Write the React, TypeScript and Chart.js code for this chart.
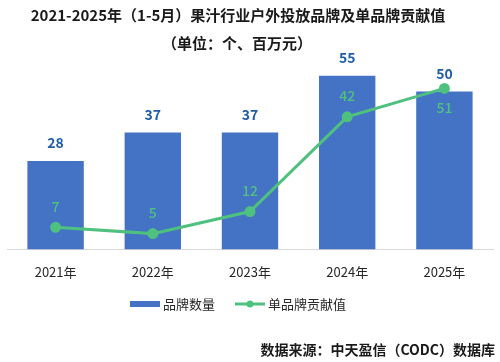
import React, { useEffect, useRef } from "react";
import { Chart, registerables } from "chart.js";

Chart.register(...registerables);

const categories = ["2021年", "2022年", "2023年", "2024年", "2025年"];
const brandCount = [28, 37, 37, 55, 50];
const brandContribution = [7, 5, 12, 42, 51];
const lineLabelPlacement = ["above", "above", "above", "above", "below"];

const titleLines = ["2021-2025年（1-5月）果汁行业户外投放品牌及单品牌贡献值", "（单位：个、百万元）"];
const sourceText = "数据来源：中天盈信（CODC）数据库";
const legendNames = ["品牌数量", "单品牌贡献值"];

const BAR_COLOR = "#4472c4";
const LINE_COLOR = "#4fc17f";
const BAR_LABEL_COLOR = "#1f5ea6";
const FONT = "'Noto Sans CJK SC', 'Noto Sans', sans-serif";

const decorPlugin = {
  id: "decor",
  afterDatasetsDraw(chart: any) {
    const ctx = chart.ctx;
    ctx.save();
    const barMeta = chart.getDatasetMeta(0);
    ctx.textAlign = "center";
    ctx.textBaseline = "middle";
    ctx.font = `bold 14px ${FONT}`;
    ctx.fillStyle = BAR_LABEL_COLOR;
    barMeta.data.forEach((el: any, i: number) => {
      ctx.fillText(String(brandCount[i]), el.x, el.y - 18);
    });
    const lineMeta = chart.getDatasetMeta(1);
    ctx.font = `500 14px ${FONT}`;
    ctx.fillStyle = LINE_COLOR;
    lineMeta.data.forEach((el: any, i: number) => {
      const dy = lineLabelPlacement[i] === "below" ? 19 : -21;
      ctx.fillText(String(brandContribution[i]), el.x, el.y + dy);
    });
    ctx.restore();
  },
  afterDraw(chart: any) {
    const ctx = chart.ctx;
    ctx.save();
    ctx.textBaseline = "middle";
    ctx.fillStyle = "#1a1a1a";
    ctx.font = `bold 15px ${FONT}`;
    ctx.textAlign = "center";
    ctx.fillText(titleLines[0], 238, 15);
    ctx.fillText(titleLines[1], 237, 43);
    const ly = 304;
    ctx.fillStyle = BAR_COLOR;
    ctx.fillRect(130, ly - 3, 30, 6);
    ctx.font = `13px ${FONT}`;
    ctx.fillStyle = "#262626";
    ctx.textAlign = "left";
    ctx.fillText(legendNames[0], 163, ly);
    ctx.strokeStyle = LINE_COLOR;
    ctx.lineWidth = 3;
    ctx.beginPath();
    ctx.moveTo(235, ly);
    ctx.lineTo(265, ly);
    ctx.stroke();
    ctx.fillStyle = LINE_COLOR;
    ctx.beginPath();
    ctx.arc(250, ly, 3.5, 0, Math.PI * 2);
    ctx.fill();
    ctx.fillStyle = "#262626";
    ctx.fillText(legendNames[1], 268, ly);
    ctx.font = `bold 14px ${FONT}`;
    ctx.textAlign = "right";
    ctx.fillStyle = "#1a1a1a";
    ctx.fillText(sourceText, 495, 350);
    ctx.restore();
  },
};

export default function App() {
  const canvasRef = useRef<HTMLCanvasElement | null>(null);

  useEffect(() => {
    if (!canvasRef.current) return;
    const chart = new Chart(canvasRef.current, {
      type: "bar",
      data: {
        labels: categories,
        datasets: [
          {
            type: "bar",
            label: legendNames[0],
            data: brandCount,
            backgroundColor: BAR_COLOR,
            categoryPercentage: 1,
            barPercentage: 0.58,
            order: 1,
          },
          {
            type: "line",
            label: legendNames[1],
            data: brandContribution,
            borderColor: LINE_COLOR,
            backgroundColor: LINE_COLOR,
            borderWidth: 3,
            pointRadius: 4,
            pointBackgroundColor: LINE_COLOR,
            pointBorderColor: LINE_COLOR,
            tension: 0,
            order: 0,
          },
        ],
      } as any,
      options: {
        animation: false,
        responsive: true,
        maintainAspectRatio: false,
        layout: { padding: { top: 60, left: 2, right: 3, bottom: 75 } },
        plugins: {
          legend: { display: false },
          title: { display: false },
          tooltip: { enabled: false },
        },
        scales: {
          x: {
            grid: { display: false },
            border: { display: true, color: "#d9d9d9", width: 1 },
            ticks: {
              color: "#262626",
              font: { size: 13, family: FONT },
              padding: 7,
            },
          },
          y: {
            display: false,
            min: 0,
            max: 60,
          },
        },
      } as any,
      plugins: [decorPlugin],
    });
    return () => chart.destroy();
  }, []);

  return (
    <div style={{ position: "fixed", left: 0, top: 0, width: 500, height: 362, background: "#fff" }}>
      <div style={{ position: "absolute", left: 0, top: 0, width: 500, height: 362 }}>
        <canvas ref={canvasRef} />
      </div>
    </div>
  );
}
